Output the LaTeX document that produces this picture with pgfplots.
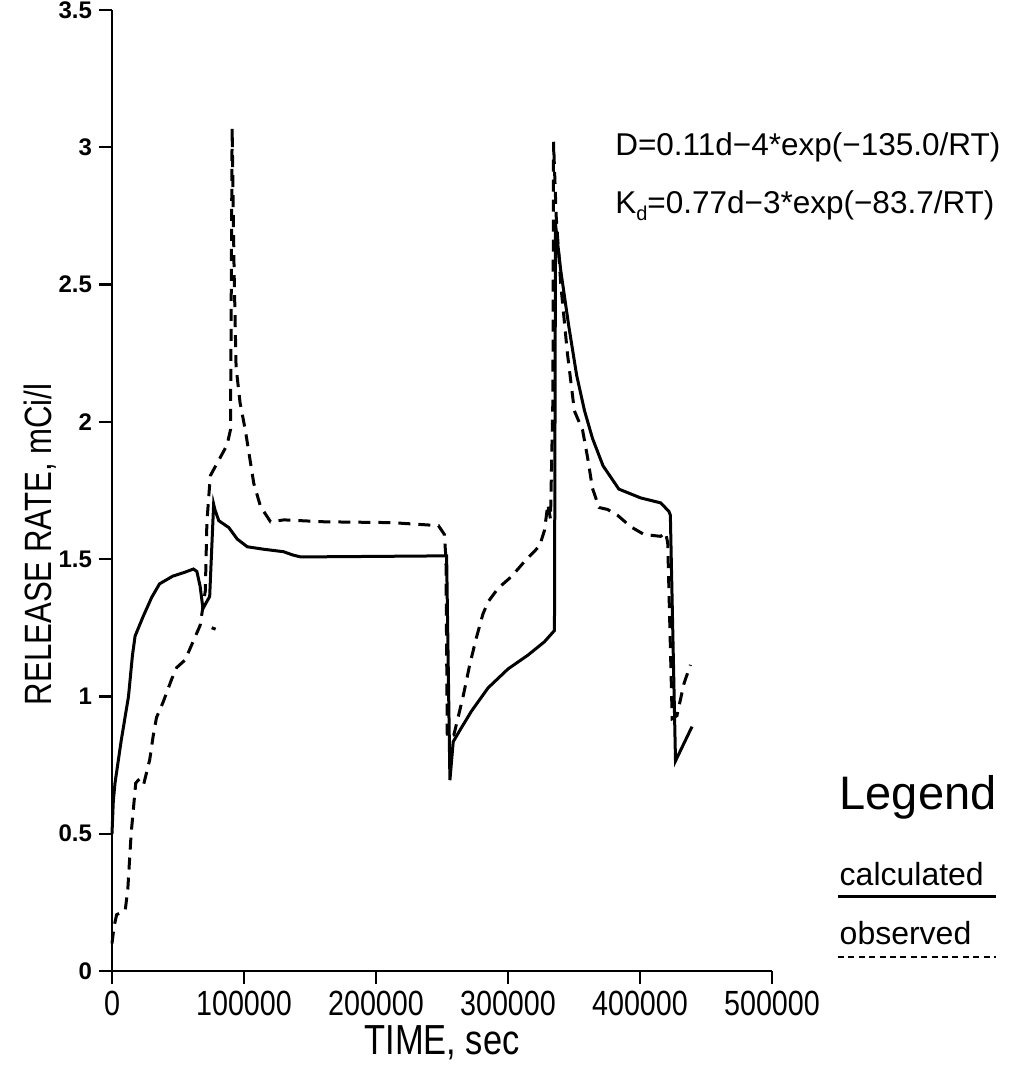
\documentclass[border=0pt]{standalone}
\usepackage{fontspec}
\setmainfont{Liberation Sans}
\newfontfamily\condfont[FakeStretch=0.82]{Liberation Sans}
\usepackage{pgfplots}
\pgfplotsset{compat=1.18}
\begin{document}
\begin{tikzpicture}
\useasboundingbox (-56pt,-49.5pt) rectangle (453.5pt,485.5pt);
\begin{axis}[
  at={(0,0)}, anchor=south west,
  scale only axis, width=330pt, height=480.5pt,
  xmin=0, xmax=500000, ymin=0, ymax=3.5,
  axis lines*=left,
  axis line style={line width=1.4pt, -},
  scaled x ticks=false,
  xtick={0,100000,200000,300000,400000,500000},
  xticklabels={0,100000,200000,300000,400000,500000},
  ytick={0,0.5,1,1.5,2,2.5,3,3.5},
  yticklabels={0,0.5,1,1.5,2,2.5,3,3.5},
  tick align=outside, major tick length=6.5pt,
  tick style={line width=1.1pt, black},
  x tick label style={font=\condfont\fontsize{17.5}{18}\selectfont},
  y tick label style={font=\bfseries\fontsize{12}{13}\selectfont},
  xlabel={TIME, sec},
  xlabel style={font=\condfont\fontsize{21}{22}\selectfont, at={(axis description cs:0.5,-0.075)}, anchor=center},
  ylabel={RELEASE RATE, mCi/l},
  ylabel style={font=\condfont\fontsize{19}{20}\selectfont, at={(axis description cs:-0.109,0.444)}, anchor=center},
  clip=false,
]
% calculated
\addplot[black, line width=1.5pt] coordinates {
(0,0.50) (1000,0.62) (2300,0.685) (7000,0.84) (12500,1.0) (15500,1.15) (17500,1.22)
(23500,1.29) (30000,1.36) (36000,1.41) (46000,1.438) (55000,1.452) (61700,1.464)
(64300,1.455) (66800,1.40) (68900,1.32) (74000,1.364) (77000,1.70) (78000,1.68)
(80900,1.64) (88500,1.615) (94900,1.573) (102500,1.545) (115000,1.536) (130000,1.527)
(137000,1.515) (143000,1.508) (200000,1.510) (253500,1.512) (256000,0.695) (258500,0.835)
(263600,0.877) (272400,0.947) (284900,1.031) (300000,1.10) (315000,1.15) (327600,1.199)
(335200,1.24) (336000,2.72) (340000,2.55) (346000,2.35) (352000,2.17) (358000,2.04)
(364000,1.94) (372000,1.84) (384000,1.755) (400500,1.723) (415600,1.705) (421900,1.674)
(423000,1.66) (426900,0.765) (439400,0.89)
};
% observed
\addplot[black, line width=1.5pt, dash pattern=on 6pt off 4pt] coordinates {
(0,0.10) (1500,0.16) (3500,0.205) (10000,0.22) (12000,0.30) (14500,0.50) (18000,0.685)
(21000,0.70) (24000,0.68) (28600,0.77) (31100,0.853) (33700,0.923) (38800,0.98)
(45200,1.063) (49000,1.105) (55400,1.133) (66800,1.259) (70700,1.385) (71900,1.636)
(74500,1.804) (87200,1.916) (89800,1.972) (91000,3.07) (92500,2.55) (94000,2.20)
(97000,2.07) (101000,1.97) (107400,1.776) (112500,1.692) (120100,1.636) (130300,1.643)
(160800,1.636) (211700,1.633) (247300,1.622) (251800,1.59) (253000,1.50) (254000,0.85)
(259000,0.86) (262000,0.92) (266000,1.0) (271000,1.115) (276000,1.213) (281000,1.30)
(285000,1.345) (292500,1.394) (302500,1.436) (312600,1.492) (323900,1.548) (327600,1.604)
(330200,1.70) (332200,1.646) (334000,2.08) (334500,3.02) (336500,2.75) (340000,2.50)
(345000,2.25) (350300,2.04) (356500,1.97) (360300,1.87) (364000,1.758) (369000,1.688)
(375400,1.681) (382900,1.66) (393000,1.618) (403000,1.59) (415600,1.583) (419300,1.597)
(421000,1.56) (424400,0.919) (428000,0.93) (433200,1.045) (438200,1.115)
};
\addplot[black, line width=1.5pt] coordinates {(75500,1.25) (78500,1.245)};
% annotations
\node[anchor=base west, inner sep=0pt, font=\fontsize{15.75}{16}\selectfont] at (axis cs:381000,2.97)
  {D=0.11d−4*exp(−135.0/RT)};
\node[anchor=base west, inner sep=0pt, font=\fontsize{15.75}{16}\selectfont] at (axis cs:381000,2.76)
  {K\raisebox{-0.45ex}{\fontsize{10}{10}\selectfont d}=0.77d−3*exp(−83.7/RT)};
\node[anchor=base west, inner sep=0pt, font=\fontsize{23.5}{24}\selectfont] at (axis cs:551000,0.59) {Legend};
\node[anchor=base west, inner sep=0pt, font=\fontsize{16}{17}\selectfont] at (axis cs:551000,0.31) {calculated};
\node[anchor=base west, inner sep=0pt, font=\fontsize{16}{17}\selectfont] at (axis cs:551000,0.095) {observed};
\draw[black, line width=1.2pt] (axis cs:550000,0.272) -- (axis cs:670000,0.272);
\draw[black, line width=1.1pt, dash pattern=on 3pt off 2.2pt] (axis cs:550000,0.05) -- (axis cs:670000,0.05);
\end{axis}
\end{tikzpicture}
\end{document}
